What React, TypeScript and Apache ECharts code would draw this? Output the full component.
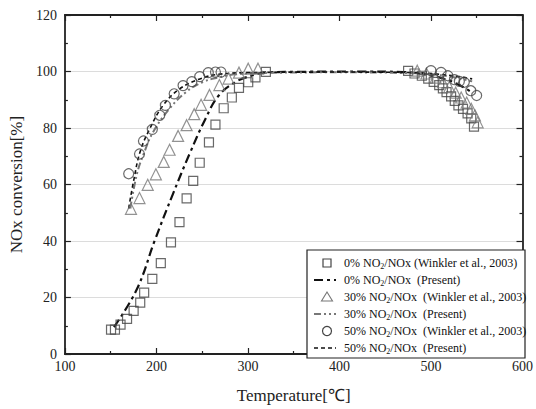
import React, { useEffect, useRef } from "react";
import * as echarts from "echarts";

// Winkler et al., 2003 measured points [temperature, conversion]
const sq0: number[][] = [
  [150.4, 8.6], [154.7, 8.6], [160.8, 10.4], [167.9, 12.4], [175.1, 15.3], [182.3, 18.2], [186.6, 21.7],
  [195.5, 26.6], [204.8, 32.2], [215.9, 39.5], [225.2, 46.7], [233, 55.1], [240.2, 61.3], [247.3, 67.7],
  [257.4, 74.9], [264.5, 81.2], [273.5, 87], [282.4, 90.8], [290.2, 94.2], [300.3, 96.2], [308.2, 97.9],
  [319.6, 99.9],
  [475, 100.2], [482, 99.3], [490, 98.5], [497, 97.5], [503, 96.3], [509, 95.2], [513, 94], [517, 92.7],
  [522, 91.2], [526, 89.6], [530, 88], [535, 86.8], [540, 85.2], [544, 83.4], [547, 80.5],
];
const tri30: number[][] = [
  [172.2, 51.4], [181.5, 55.2], [190.5, 59.9], [199.4, 63.6], [208, 68], [214.4, 72.3], [223.7, 77.2],
  [233, 81], [241.3, 84.9], [248.8, 88.2], [258, 91.7], [268.8, 95.2], [278.8, 97.5], [290.2, 99.6],
  [300.3, 101], [311, 101],
  [485, 100.3], [495, 99.3], [505, 97.8], [513, 96.2], [520, 94.5], [527, 92.5], [533, 90.8],
  [539, 89], [544, 86.8], [548, 84.5], [551, 82],
];
const cir50: number[][] = [
  [169.7, 63.8], [181.5, 70.8], [185.8, 75.4], [195.5, 79.5], [203.7, 84.5], [209.8, 88], [219.4, 92.1],
  [229.1, 95], [238.7, 96.4], [247.3, 98.2], [256.7, 99.6], [264.5, 99.8], [270.6, 99.8],
  [500, 100.3], [511, 99.7], [518.5, 98.5], [525.6, 97.1], [531, 96.5], [536.4, 96.2], [543.5, 93.2],
  [549.9, 91.5],
];
// Present model curves
const model0: number[][] = [
  [153.6, 9.5], [178.6, 22.9], [198.4, 40.4], [218, 56.6], [235.9, 70.6], [253.8, 83.4], [268.1, 91.5],
  [286, 96.2], [303.9, 98.5], [321.8, 99.7], [360, 99.9], [420, 100], [470, 99.8], [500, 98.5],
  [520, 96.8], [535, 94.5], [545, 92.5],
];
const model30: number[][] = [
  [171.5, 51.5], [178.6, 63.6], [185.8, 70.6], [196.6, 78.7], [214.5, 86.9], [232.3, 92.7], [250.2, 96.2],
  [268.1, 97.9], [286, 99], [320, 99.5], [400, 99.7], [470, 99.5], [500, 99], [525, 98], [545, 96.5],
];
const model50: number[][] = [
  [169.7, 51.5], [175.1, 61.3], [182.3, 71.7], [193, 79.9], [207.3, 88], [225.2, 93.8], [246.7, 97.3],
  [268.1, 99], [300, 99.6], [400, 99.8], [480, 99.6], [510, 99], [530, 98.2], [545, 97.4],
];

const legendLabels = [
  "0% NO|2|/NOx (Winkler et al., 2003)",
  "0% NO|2|/NOx  (Present)",
  "30% NO|2|/NOx  (Winkler et al., 2003)",
  "30% NO|2|/NOx  (Present)",
  "50% NO|2|/NOx  (Winkler et al., 2003)",
  "50% NO|2|/NOx  (Present)",
];

const FONT = "Liberation Serif";

export default function App() {
  const ref = useRef<HTMLDivElement>(null);
  useEffect(() => {
    if (!ref.current) return;
    const chart = echarts.init(ref.current, null, { renderer: "svg" });
    const axisCommon = {
      axisLine: { show: true, onZero: false, lineStyle: { color: "#222", width: 1.8 } },
      axisTick: { show: true, inside: true, length: 6, lineStyle: { color: "#222", width: 1.2 } },
      minorTick: { show: true, splitNumber: 2, length: 3, lineStyle: { color: "#222", width: 1.2 } },
    };
    const hollow = (c: string) => ({ color: "rgba(0,0,0,0)", borderColor: c, borderWidth: 1.2 });

    const rowY = [263, 280, 297, 314, 331, 348];
    const symX = 327;
    const textX = 344;
    const g: any[] = [
      {
        type: "rect",
        shape: { x: 307, y: 250, width: 218, height: 108 },
        style: { fill: "#fff", stroke: "#222", lineWidth: 1.2 },
        z: 10,
      },
    ];
    const rich = {
      a: { fontFamily: FONT, fontSize: 12, fill: "#111" },
      s: { fontFamily: FONT, fontSize: 8, fill: "#111", verticalAlign: "bottom", padding: [7, 0, 0, 0] },
    };
    legendLabels.forEach((lab, i) => {
      const parts = lab.split("|");
      g.push({
        type: "text",
        x: textX,
        y: rowY[i],
        z: 11,
        style: {
          text: `{a|${parts[0]}}{s|${parts[1]}}{a|${parts[2]}}`,
          rich,
          verticalAlign: "middle",
          align: "left",
        },
      });
    });
    // symbols
    g.push({ type: "rect", z: 11, shape: { x: symX - 4, y: rowY[0] - 4, width: 8, height: 8 }, style: { fill: "none", stroke: "#444", lineWidth: 1.2 } });
    g.push({ type: "polygon", z: 11, shape: { points: [[symX, rowY[2] - 5], [symX - 5.5, rowY[2] + 4], [symX + 5.5, rowY[2] + 4]] }, style: { fill: "none", stroke: "#777", lineWidth: 1.1 } });
    g.push({ type: "circle", z: 11, shape: { cx: symX, cy: rowY[4], r: 4.5 }, style: { fill: "none", stroke: "#444", lineWidth: 1.2 } });
    g.push({ type: "line", z: 11, shape: { x1: 314, y1: rowY[1], x2: 336, y2: rowY[1] }, style: { stroke: "#111", lineWidth: 2.2, lineDash: [9, 4, 3, 4] } });
    g.push({ type: "line", z: 11, shape: { x1: 314, y1: rowY[3], x2: 336, y2: rowY[3] }, style: { stroke: "#777", lineWidth: 2, lineDash: [7, 3, 2, 3, 2, 3] } });
    g.push({ type: "line", z: 11, shape: { x1: 314, y1: rowY[5], x2: 336, y2: rowY[5] }, style: { stroke: "#111", lineWidth: 1.6, lineDash: [4, 3] } });

    chart.setOption({
      animation: false,
      backgroundColor: "#fff",
      grid: { left: 60, right: 11, top: 15, bottom: 51 },
      xAxis: [
        {
          type: "value", min: 100, max: 600, interval: 100,
          ...axisCommon,
          axisLabel: { fontFamily: FONT, fontSize: 14, color: "#222", margin: 5 },
          splitLine: { show: false },
          name: "Temperature[\u2103]", nameLocation: "middle", nameGap: 33,
          nameTextStyle: { fontFamily: FONT, fontSize: 17, color: "#222" },
        },
        {
          type: "value", min: 100, max: 600, interval: 100, position: "top",
          ...axisCommon, axisLabel: { show: false }, splitLine: { show: false },
        },
      ],
      yAxis: [
        {
          type: "value", min: 0, max: 120, interval: 20,
          ...axisCommon,
          axisLabel: { fontFamily: FONT, fontSize: 14, color: "#222", margin: 8 },
          splitLine: { show: true, lineStyle: { color: "#dcdcdc", width: 1 } },
          name: "NOx conversion[%]", nameLocation: "middle", nameGap: 32,
          nameTextStyle: { fontFamily: FONT, fontSize: 17, color: "#222" },
        },
        {
          type: "value", min: 0, max: 120, interval: 20, position: "right",
          ...axisCommon, axisLabel: { show: false }, splitLine: { show: false },
        },
      ],
      series: [
        { type: "scatter", data: sq0, symbol: "rect", symbolSize: 9, itemStyle: hollow("#444"), z: 3 },
        { type: "line", data: model0, smooth: 0.4, showSymbol: false, lineStyle: { color: "#111", width: 2.2, type: [9, 4, 3, 4] }, z: 2 },
        { type: "scatter", data: tri30, symbol: "triangle", symbolSize: 11, itemStyle: hollow("#777"), z: 3 },
        { type: "line", data: model30, smooth: 0.4, showSymbol: false, lineStyle: { color: "#777", width: 2, type: [7, 3, 2, 3, 2, 3] }, z: 2 },
        { type: "scatter", data: cir50, symbol: "circle", symbolSize: 10, itemStyle: hollow("#444"), z: 3 },
        { type: "line", data: model50, smooth: 0.4, showSymbol: false, lineStyle: { color: "#111", width: 1.6, type: [4, 3] }, z: 2 },
      ],
      graphic: g,
    });
    return () => chart.dispose();
  }, []);
  return <div ref={ref} style={{ width: 536, height: 409, position: "absolute", left: 0, top: 0 }} />;
}
